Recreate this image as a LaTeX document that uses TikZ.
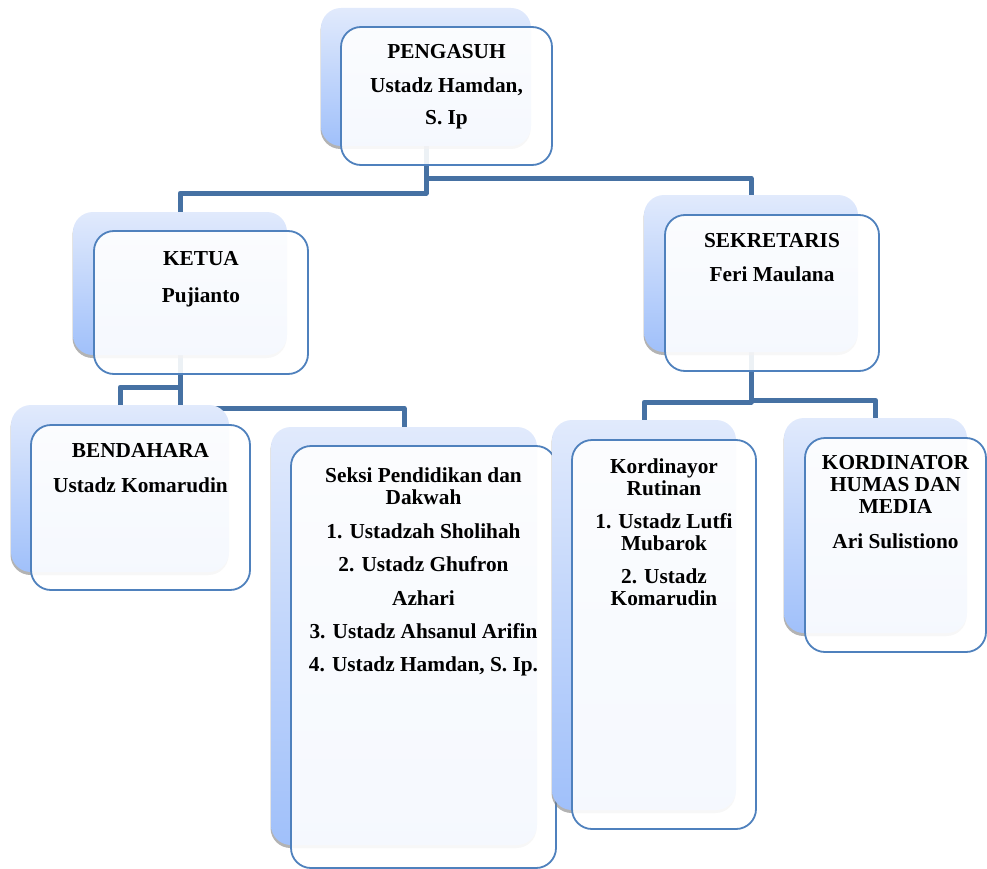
\documentclass[tikz,border=0pt]{standalone}
\usepackage{fontspec}
\setmainfont{Liberation Serif}
\usetikzlibrary{positioning,shadows}
\definecolor{linkblue}{RGB}{70,113,163}
\definecolor{boxline}{RGB}{79,129,189}
\definecolor{backtop}{RGB}{225,234,252}
\definecolor{backbot}{RGB}{160,192,250}
\pgfdeclarelayer{bg}
\pgfsetlayers{bg,main}

\begin{document}
\begin{tikzpicture}[x=1pt,y=-1pt]
	\tikzstyle{back}=[rounded corners=20pt,top color=backtop,bottom color=backbot,inner sep=0pt,
		drop shadow={shadow xshift=-0.5pt,shadow yshift=-3pt,opacity=.6,fill=black!50}]
	\tikzstyle{front}=[rounded corners=20pt,draw=boxline,line width=1.8pt,fill=white,fill opacity=.9,inner sep=0pt]
	\tikzstyle{txt}=[align=center,inner sep=0pt,font=\fontsize{21.3}{22}\selectfont\bfseries]
	\tikzstyle{link}=[draw=linkblue,line width=5pt,line join=round]
	\useasboundingbox (0,0) rectangle (987,869);

	\node[back,minimum width=210pt,minimum height=138pt] (pengasuhB) at (426,77) {};
	\node[front,minimum width=211pt,minimum height=138pt] (pengasuh) at (446.5,96) {};
	\node[txt,below=18pt of pengasuh.north] (pengasuhT) {PENGASUH\\[12pt]Ustadz Hamdan,\\[10pt]S. Ip};

	\node[back,minimum width=214pt,minimum height=143pt] (ketuaB) at (180,283.5) {};
	\node[front,minimum width=214pt,minimum height=143pt] (ketua) at (201,302.5) {};
	\node[txt,below=21pt of ketua.north] (ketuaT) {KETUA\\[15pt]Pujianto};

	\node[back,minimum width=214pt,minimum height=157pt] (sekretarisB) at (751,273.5) {};
	\node[front,minimum width=214pt,minimum height=156pt] (sekretaris) at (772,293) {};
	\node[txt,below=19pt of sekretaris.north] (sekretarisT) {SEKRETARIS\\[12pt]Feri Maulana};

	\node[back,minimum width=218pt,minimum height=167pt] (bendaharaB) at (120,488.5) {};
	\node[front,minimum width=219pt,minimum height=165pt] (bendahara) at (140.5,507.5) {};
	\node[txt,below=19pt of bendahara.north] (bendaharaT) {BENDAHARA\\[13pt]Ustadz Komarudin};

	\node[back,minimum width=266pt,minimum height=418pt] (seksiB) at (404,636) {};
	\node[front,minimum width=265pt,minimum height=422pt] (seksi) at (423.5,657) {};
	\node[txt,below=22pt of seksi.north] (seksiT) {Seksi Pendidikan dan\\Dakwah\\[12pt]1. Ustadzah Sholihah\\[11pt]2. Ustadz Ghufron\\[12pt]Azhari\\[11pt]3. Ustadz Ahsanul Arifin\\[11pt]4. Ustadz Hamdan, S. Ip.};

	\node[back,minimum width=184pt,minimum height=390pt] (rutinanB) at (644,615) {};
	\node[front,minimum width=184pt,minimum height=389pt] (rutinan) at (664,634.5) {};
	\node[txt,below=19pt of rutinan.north] (rutinanT) {Kordinayor\\Rutinan\\[11pt]1. Ustadz Lutfi\\Mubarok\\[11pt]2. Ustadz\\Komarudin};

	\node[back,minimum width=183pt,minimum height=215pt] (humasB) at (875.5,525.5) {};
	\node[front,minimum width=181pt,minimum height=214pt] (humas) at (895.5,545) {};
	\node[txt,below=18pt of humas.north] (humasT) {KORDINATOR\\HUMAS DAN\\MEDIA\\[13pt]Ari Sulistiono};

	\begin{pgfonlayer}{bg}
		\draw[link] (pengasuhB.south) -- ++(0,47) -| (ketuaB.north);
		\draw[link] (pengasuhB.south) -- ++(0,32) -| (sekretarisB.north);
		\draw[link] (ketuaB.south) -- ++(0,32) -| (bendaharaB.north);
		\draw[link] (ketuaB.south) -- ++(0,53) -| (seksiB.north);
		\draw[link] (sekretarisB.south) -- ++(0,50) -| (rutinanB.north);
		\draw[link] (sekretarisB.south) -- ++(0,48) -| (humasB.north);
	\end{pgfonlayer}
\end{tikzpicture}
\end{document}
